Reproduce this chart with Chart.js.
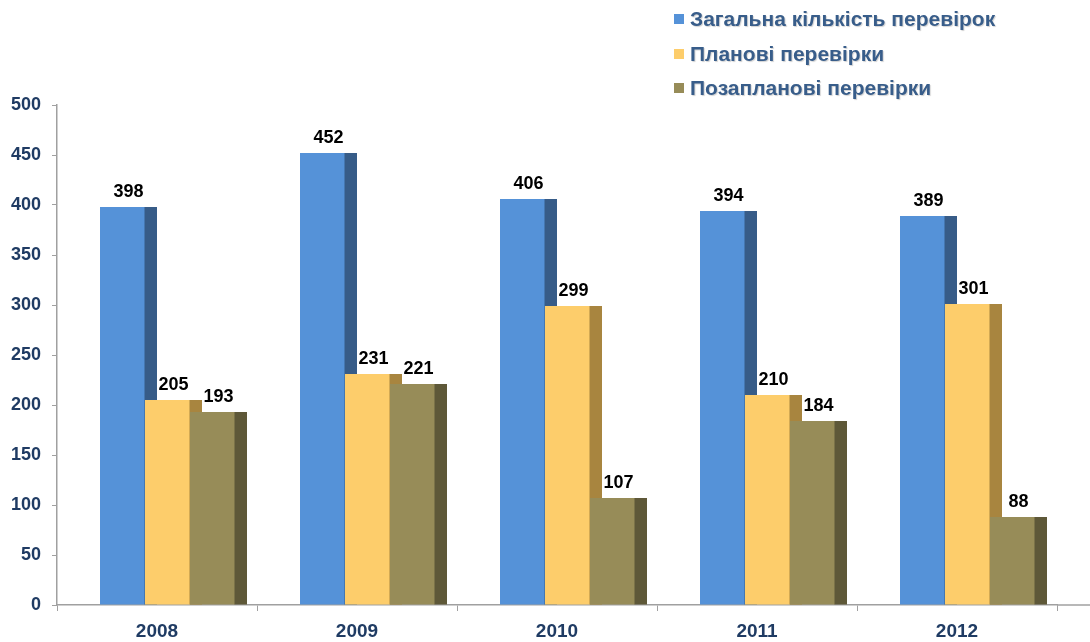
<!DOCTYPE html>
<html>
<head>
<meta charset="utf-8">
<script src="https://cdn.jsdelivr.net/npm/chart.js@4.4.0/dist/chart.umd.min.js"></script>
<style>
  body { margin: 0; background: #fff; }
  #wrap { position: relative; width: 1090px; height: 642px; }
  #legend { position: absolute; left: 674px; top: 5px; font-family: "Liberation Sans", Arial, sans-serif; font-weight: bold; font-size: 21px; color: #385d8a; text-shadow: 1px 1px 1px rgba(0,0,0,0.18); }
  #legend div { height: 34.5px; line-height: 28px; white-space: nowrap; }
  #legend span { display: inline-block; width: 10px; height: 10px; margin-right: 6px; vertical-align: 2px; text-shadow: none; }
</style>
</head>
<body>
<div id="wrap">
  <canvas id="chart" width="1090" height="642"></canvas>
  <div id="legend"></div>
</div>
<script>
const years = ['2008', '2009', '2010', '2011', '2012'];
const totalChecks = [398, 452, 406, 394, 389];
const plannedChecks = [205, 231, 299, 210, 301];
const unplannedChecks = [193, 221, 107, 184, 88];
const seriesNames = ['Загальна кількість перевірок', 'Планові перевірки', 'Позапланові перевірки'];
const frontColors = ['#5592d8', '#fdcd6b', '#978c58'];
const sideColors = ['#375c88', '#a8853f', '#5e5838'];
const yTicks = [0, 50, 100, 150, 200, 250, 300, 350, 400, 450, 500];

const SHIFT = 10.5;
const DEPTH = 12;
const navy = '#1f3b63';

const legendBox = document.getElementById('legend');
seriesNames.forEach((name, i) => {
    const row = document.createElement('div');
    const sq = document.createElement('span');
    sq.style.background = frontColors[i];
    row.appendChild(sq);
    row.appendChild(document.createTextNode(name));
    legendBox.appendChild(row);
});

// bars are drawn left to right so each one covers the side face of the previous one
const barLook = {
    id: 'barLook',
    beforeDatasetDraw() {
        return false;
    },
    afterDatasetsDraw(chart) {
        const ctx = chart.ctx;
        ctx.save();
        ctx.translate(SHIFT, 0);
        chart.data.datasets.forEach((ds, i) => {
            const meta = chart.getDatasetMeta(i);
            meta.data.forEach(bar => {
                bar.draw(ctx);
                const p = bar.getProps(['x', 'y', 'base', 'width'], true);
                ctx.fillStyle = sideColors[i];
                ctx.fillRect(p.x + p.width / 2 - 0.5, p.y, DEPTH + 0.5, p.base - p.y);
            });
        });
        ctx.fillStyle = '#000';
        ctx.font = 'bold 18px "Liberation Sans", Arial, sans-serif';
        ctx.textAlign = 'center';
        ctx.textBaseline = 'bottom';
        chart.data.datasets.forEach((ds, i) => {
            chart.getDatasetMeta(i).data.forEach((bar, j) => {
                ctx.fillText(String(ds.data[j]), bar.x + DEPTH / 2, bar.y - 6);
            });
        });
        ctx.restore();
    },
    afterDraw(chart) {
        const ctx = chart.ctx;
        const a = chart.chartArea;
        ctx.save();
        ctx.strokeStyle = '#a0a0a0';
        ctx.lineWidth = 1.5;
        ctx.beginPath();
        ctx.moveTo(a.right, a.bottom);
        ctx.lineTo(chart.width, a.bottom);
        ctx.stroke();
        ctx.restore();
    }
};

new Chart(document.getElementById('chart'), {
    type: 'bar',
    data: {
        labels: years,
        datasets: [
            { label: seriesNames[0], data: totalChecks, backgroundColor: frontColors[0] },
            { label: seriesNames[1], data: plannedChecks, backgroundColor: frontColors[1] },
            { label: seriesNames[2], data: unplannedChecks, backgroundColor: frontColors[2] }
        ]
    },
    options: {
        responsive: false,
        animation: false,
        layout: { padding: { top: 105, right: 33, left: 0, bottom: 0 } },
        datasets: { bar: { barPercentage: 1, categoryPercentage: 0.675, borderWidth: 0 } },
        plugins: { legend: { display: false }, tooltip: { enabled: false } },
        scales: {
            x: {
                grid: { drawOnChartArea: false, offset: true, tickLength: 6, color: '#a0a0a0' },
                border: { color: '#a0a0a0', width: 1.5 },
                ticks: { color: navy, padding: 9, font: { family: '"Liberation Sans", Arial, sans-serif', size: 19, weight: 'bold' } },
                afterFit(scale) { scale.height = 37; }
            },
            y: {
                min: 0,
                max: 500,
                afterBuildTicks(scale) { scale.ticks = yTicks.map(v => ({ value: v })); },
                grid: { drawOnChartArea: false, tickLength: 5, color: '#a0a0a0' },
                border: { color: '#a0a0a0', width: 1.5 },
                ticks: { color: navy, padding: 11, font: { family: '"Liberation Sans", Arial, sans-serif', size: 18, weight: 'bold' } },
                afterFit(scale) { scale.width = 57; }
            }
        }
    },
    plugins: [barLook]
});
</script>
</body>
</html>
